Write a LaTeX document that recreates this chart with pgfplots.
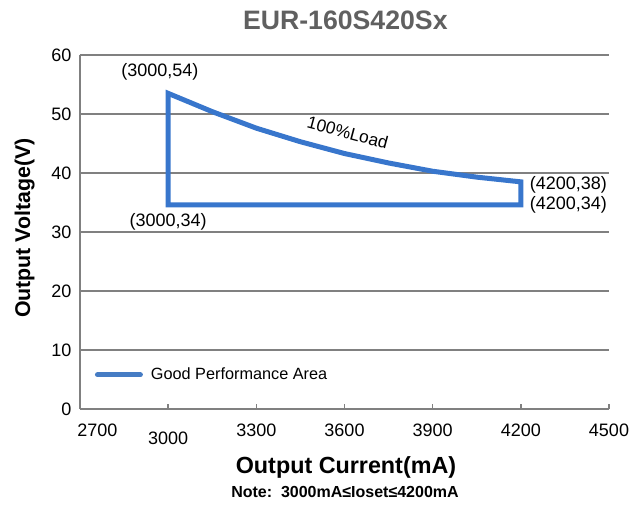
\documentclass[border=0pt]{standalone}
\usepackage{fontspec}
\setmainfont{Liberation Sans}
\usepackage{pgfplots}
\pgfplotsset{compat=1.18}
\definecolor{areablue}{RGB}{56,118,204}
\definecolor{legblue}{RGB}{70,124,196}
\definecolor{gridgray}{RGB}{128,128,128}
\definecolor{titlegray}{RGB}{96,96,96}

\begin{document}
\begin{tikzpicture}
\begin{axis}[
  at={(0,0)}, anchor=south west,
  scale only axis,
  width=396.75pt, height=265.5pt,
  xmin=2700, xmax=4500, ymin=0, ymax=60,
  xtick={2700,3000,3300,3600,3900,4200,4500},
  xticklabels={\rlap{\hspace{-2pt}2700},\raisebox{-6pt}[\height]{3000},3300,3600,3900,4200,4500},
  ytick={0,10,20,30,40,50,60},
  axis lines=left,
  axis line style={-, draw=gridgray, line width=1.5pt},
  ymajorgrids,
  grid style={draw=gridgray, line width=1.5pt},
  tick align=inside,
  major tick length=4pt,
  x tick style={draw=gridgray, line width=1.2pt},
  y tick style={draw=none},
  tick label style={font=\fontsize{13.5}{16}\selectfont},
  /pgf/number format/assume math mode=true,
  xticklabel style={yshift=-8pt},
  yticklabel style={xshift=-3pt},
  legend style={draw=none, fill=none, at={(axis cs:2700,5.8)}, anchor=west,
    xshift=8pt, font=\fontsize{12.2}{14}\selectfont,
    nodes={inner xsep=6pt}},
  legend image code/.code={\draw[draw=legblue, line width=4pt, line cap=round] (0pt,0pt) -- (32pt,0pt);},
  clip=false,
]
\addplot[draw=areablue, line width=3.75pt, line join=miter, mark=none]
  coordinates {(3000,34.6) (3000,53.5) (3150,50.4) (3300,47.6) (3450,45.3) (3600,43.3)
               (3750,41.7) (3900,40.3) (4050,39.3) (4200,38.5) (4200,34.6)} -- cycle;
\addlegendentry{Good Performance Area}

\node[font=\fontsize{13.5}{16}\selectfont] at (axis cs:2972,57.1) {(3000,54)};
\node[font=\fontsize{13.5}{16}\selectfont] at (axis cs:3000,31.7) {(3000,34)};
\node[font=\fontsize{13.5}{16}\selectfont, anchor=west, inner xsep=0pt] at (axis cs:4230,38.0) {(4200,38)};
\node[font=\fontsize{13.5}{16}\selectfont, anchor=west, inner xsep=0pt] at (axis cs:4230,34.6) {(4200,34)};
\node[font=\fontsize{13}{15}\selectfont, rotate=-15] at (axis cs:3611,46.9) {100\%Load};
\end{axis}

\node[font=\bfseries\fontsize{20}{24}\selectfont, text=titlegray] at (199pt,291.75pt) {EUR-160S420Sx};
\node[font=\bfseries\fontsize{16}{19}\selectfont, rotate=90] at (-41.5pt,135.75pt) {Output Voltage(V)};
\node[font=\bfseries\fontsize{17.5}{21}\selectfont] at (199.5pt,-43.5pt) {Output Current(mA)};
\node[font=\bfseries\fontsize{12}{14}\selectfont] at (198.75pt,-62.25pt) {Note:\ \ 3000mA≤Ioset≤4200mA};

\pgfresetboundingbox
\path (-60pt,-73.5pt) rectangle (423pt,306.75pt);
\end{tikzpicture}
\end{document}
